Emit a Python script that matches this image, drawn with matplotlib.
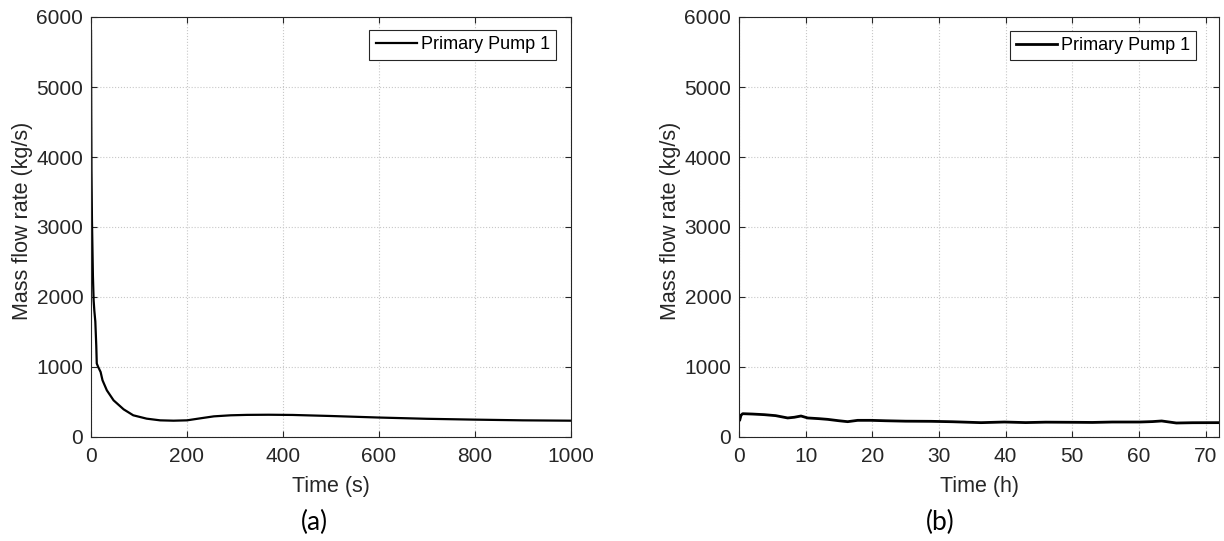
import matplotlib
matplotlib.use("Agg")
import matplotlib.pyplot as plt

# panel (a): pump flow over the first 1000 s
time_s = [0, 0.5, 1, 2, 3, 4, 5.5, 7, 9, 11, 12, 15, 20, 24, 33, 47, 68,
          88, 116, 144, 172, 200, 228, 256, 291, 325, 370, 420, 500, 600,
          700, 800, 900, 1000]
flow_s = [5800, 4600, 3800, 3100, 2700, 2300, 1950, 1800, 1650, 1300, 1050,
          1000, 929, 810, 667, 524, 395, 310, 262, 238, 233, 238, 267, 295,
          310, 316, 318, 315, 300, 278, 260, 248, 238, 233]

# panel (b): pump flow over 72 h
time_h = [0, 0.1, 0.3, 0.55, 2, 3.8, 5.5, 7.3, 8.3, 9.3, 10.3, 12, 13.3,
          15, 16.3, 17.8, 19.8, 22, 25, 28.8, 32, 36.3, 39.8, 43, 46, 50.2,
          53, 56, 60.1, 62, 63.4, 65.6, 68, 71.7, 72]
flow_h = [300, 238, 310, 333, 328, 319, 305, 272, 282, 300, 272, 262, 252,
          232, 219, 238, 238, 232, 226, 224, 218, 205, 214, 206, 212, 210,
          208, 214, 214, 220, 229, 200, 204, 205, 205]

panels = [
    dict(x=time_s, y=flow_s, xlim=(0, 1000), xticks=range(0, 1001, 200),
         xlabel="Time (s)", tag="(a)", left=91, lw=1.6,
         leg_anchor=(0.969, 0.969), tag_x=314),
    dict(x=time_h, y=flow_h, xlim=(0, 72), xticks=range(0, 71, 10),
         xlabel="Time (h)", tag="(b)", left=739, lw=2.0,
         leg_anchor=(0.953, 0.967), tag_x=940),
]

W, H = 1224, 541
fig = plt.figure(figsize=(W / 100, H / 100), dpi=100)
fig.patch.set_facecolor("white")
plt.rcParams["font.family"] = ["Liberation Sans", "DejaVu Sans"]

txt = "#262626"
for p in panels:
    ax = fig.add_axes([p["left"] / W, (H - 437) / H, 480 / W, 420 / H])
    ax.plot(p["x"], p["y"], color="black", linewidth=p["lw"],
            label="Primary Pump 1")
    ax.set_xlim(*p["xlim"])
    ax.set_ylim(0, 6000)
    ax.set_xticks(list(p["xticks"]))
    ax.set_yticks(range(0, 6001, 1000))
    ax.grid(True, color="#c8c8c8", linestyle=":", linewidth=0.8)
    ax.tick_params(direction="in", top=True, right=True, length=4,
                   width=0.8, labelsize=15, colors=txt)
    ax.tick_params(axis="x", pad=7.5)
    ax.tick_params(axis="y", pad=5.5)
    for s in ax.spines.values():
        s.set_edgecolor(txt)
        s.set_linewidth(0.8)
    ax.set_xlabel(p["xlabel"], fontsize=15.5, color=txt)
    ax.set_ylabel("Mass flow rate (kg/s)", fontsize=15.5, color=txt)
    ax.xaxis.set_label_coords(0.5, -0.093)
    ax.yaxis.set_label_coords(-0.121, 0.514)
    leg = ax.legend(loc="upper right", bbox_to_anchor=p["leg_anchor"],
                    borderaxespad=0, fontsize=13, handlelength=2.3,
                    fancybox=False, framealpha=1, edgecolor=txt,
                    borderpad=0.35, handletextpad=0.2)
    leg.get_frame().set_linewidth(0.8)
    fig.text(p["tag_x"] / W, 1 - 522 / H, p["tag"], fontsize=19,
             family=["Lato", "DejaVu Sans"], color="black",
             ha="center", va="center")

fig.savefig("out.png", dpi=100, facecolor="white")
